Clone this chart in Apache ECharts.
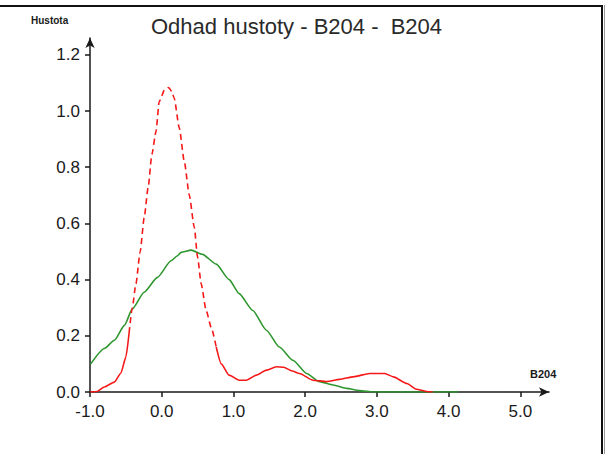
<!DOCTYPE html>
<html>
<head>
<meta charset="utf-8">
<script src="https://cdn.jsdelivr.net/npm/echarts@6/dist/echarts.min.js"></script>
<style>
html,body{margin:0;padding:0;background:#fff;}
#chart{width:610px;height:454px;}
</style>
</head>
<body>
<div id="chart"></div>
<script>
var titleText = 'Odhad hustoty - B204 -  B204';
var yName = 'Hustota';
var xName = 'B204';
var xTicks = [-1, 0, 1, 2, 3, 4, 5];
var yTicks = [0, 0.2, 0.4, 0.6, 0.8, 1.0, 1.2];

// red density estimate (x, density)
var redX = [-1.0,-0.9,-0.8,-0.66,-0.57,-0.50,-0.455,-0.41,-0.36,-0.30,-0.245,-0.19,-0.137,-0.08,-0.035,0.04,0.095,0.14,0.175,0.245,0.315,0.385,0.455,0.50,0.55,0.62,0.69,0.76,0.83,0.94,1.08,1.18,1.32,1.46,1.60,1.70,1.82,1.92,2.11,2.30,2.48,2.67,2.90,3.11,3.23,3.42,3.55,3.69,3.78];
var redY = [0,0.002,0.018,0.035,0.067,0.124,0.21,0.30,0.385,0.50,0.62,0.726,0.846,0.927,1.034,1.075,1.084,1.07,1.045,0.94,0.82,0.70,0.585,0.48,0.385,0.29,0.23,0.16,0.10,0.06,0.042,0.042,0.06,0.078,0.09,0.088,0.075,0.066,0.042,0.037,0.045,0.054,0.066,0.066,0.054,0.03,0.01,0.002,0];

// green density estimate (x, density)
var greenX = [-0.99,-0.80,-0.66,-0.52,-0.41,-0.245,-0.06,0.13,0.22,0.27,0.41,0.57,0.76,0.94,1.08,1.27,1.46,1.64,1.83,2.02,2.20,2.39,2.58,2.76,2.95,4.14];
var greenY = [0.10,0.155,0.184,0.237,0.296,0.355,0.408,0.467,0.485,0.497,0.505,0.49,0.455,0.40,0.35,0.29,0.22,0.16,0.113,0.066,0.037,0.025,0.013,0.005,0,0];

var redSolid = [], redDashed = [], green = [];
for (var i = 0; i < redX.length; i++) {
  var x = redX[i], y = redY[i];
  var inPeak = x < 1;
  redDashed.push(inPeak && y >= 0.16 ? [x, y] : [x, '-']);
  redSolid.push((!inPeak || y <= 0.21) ? [x, y] : [x, '-']);
}
for (var j = 0; j < greenX.length; j++) green.push([greenX[j], greenY[j]]);

var font = 'Liberation Sans';
var ink = '#1a1a1a';

var chart = echarts.init(document.getElementById('chart'), null, {renderer: 'svg'});
chart.setOption({
  backgroundColor: '#fff',
  animation: false,
  title: {
    text: titleText,
    left: 146, top: 10,
    textStyle: {fontFamily: font, fontSize: 22, fontWeight: 'normal', color: '#2a2a2a'}
  },
  grid: {left: 90, right: 61, top: 38, bottom: 62, containLabel: false},
  xAxis: {
    type: 'value', min: -1, max: 5.4, interval: 1,
    axisLine: {show: true, onZero: false, symbol: ['none', 'arrow'], symbolSize: [7, 10], lineStyle: {color: ink, width: 1.5}},
    axisTick: {show: true, length: 5, customValues: xTicks, lineStyle: {color: ink, width: 1.5}},
    axisLabel: {customValues: xTicks, margin: 11, fontFamily: font, fontSize: 17, color: ink,
      formatter: function (v) { return v.toFixed(1); }},
    splitLine: {show: false}
  },
  yAxis: {
    type: 'value', min: 0, max: 1.26, interval: 0.2,
    axisLine: {show: true, onZero: false, symbol: ['none', 'arrow'], symbolSize: [7, 10], lineStyle: {color: ink, width: 1.5}},
    axisTick: {show: true, length: 5, customValues: yTicks, lineStyle: {color: ink, width: 1.5}},
    axisLabel: {customValues: yTicks, margin: 10, fontFamily: font, fontSize: 17, color: ink,
      formatter: function (v) { return v.toFixed(1); }},
    splitLine: {show: false}
  },
  series: [
    {type: 'line', data: green, showSymbol: false, symbol: 'none', smooth: 0.2, smoothMonotone: 'x',
      lineStyle: {color: '#2e962e', width: 1.6}, z: 3},
    {type: 'line', data: redSolid, showSymbol: false, symbol: 'none', smooth: 0.2, smoothMonotone: 'x', connectNulls: false,
      lineStyle: {color: '#f51818', width: 1.6}, z: 4},
    {type: 'line', data: redDashed, showSymbol: false, symbol: 'none', smooth: 0.2, smoothMonotone: 'x', connectNulls: false,
      lineStyle: {color: '#f51818', width: 1.6, type: [6, 4]}, z: 4}
  ],
  graphic: [
    {type: 'text', left: 31, top: 15, style: {text: yName, fontFamily: font, fontSize: 10, fontWeight: 'bold', fill: ink}},
    {type: 'text', left: 530, top: 368, style: {text: xName, fontFamily: font, fontSize: 11, fontWeight: 'bold', fill: ink}},
    {type: 'line', shape: {x1: 0, y1: 6, x2: 603, y2: 6}, style: {stroke: '#111', lineWidth: 2}},
    {type: 'line', shape: {x1: 602, y1: 5, x2: 602, y2: 454}, style: {stroke: '#111', lineWidth: 2}},
    {type: 'line', shape: {x1: 604.5, y1: 5, x2: 604.5, y2: 454}, style: {stroke: '#999', lineWidth: 1}}
  ]
});
</script>
</body>
</html>
